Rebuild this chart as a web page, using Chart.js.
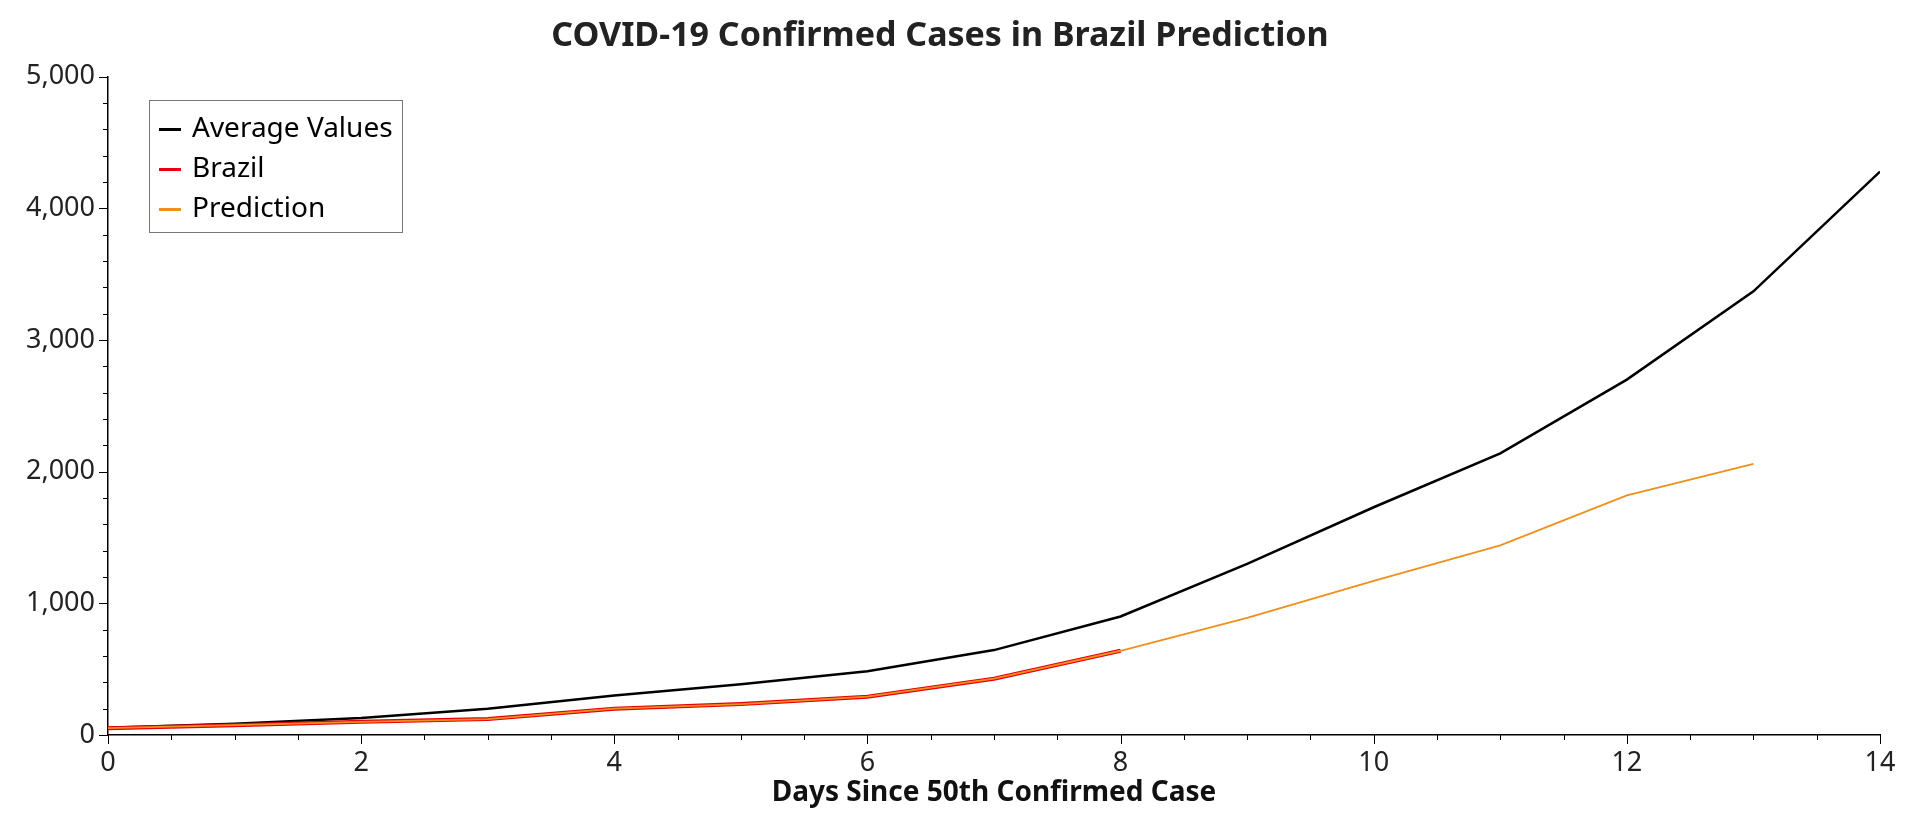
<!DOCTYPE html>
<html>
<head>
<meta charset="utf-8">
<script src="https://cdn.jsdelivr.net/npm/chart.js@4"></script>
<style>
  body { margin: 0; background: #fff; }
  #wrap { position: relative; width: 1920px; height: 828px; }
  #legend { position: absolute; left: 149px; top: 100px; width: 254px; height: 133px;
    border: 1.5px solid #777; font-family: "Noto Sans"; font-size: 28px; box-sizing: border-box;
    padding: 5px 0 0 9px; }
  #legend div { height: 40px; line-height: 40px; }
  #legend span.sw { display: inline-block; width: 22px; height: 3px; vertical-align: middle; margin-right: 11px; }
</style>
</head>
<body>
<div id="wrap">
  <canvas id="chart" width="1920" height="828"></canvas>
  <div id="legend"></div>
</div>
<script>
const days = [0, 1, 2, 3, 4, 5, 6, 7, 8, 9, 10, 11, 12, 13, 14];
const averageValues = [55, 85, 130, 200, 300, 385, 485, 645, 900, 1300, 1730, 2140, 2700, 3370, 4280];
const brazil = [52, 75, 100, 121, 200, 235, 291, 428, 640];
const prediction = [52, 75, 100, 121, 200, 235, 291, 428, 640, 890, 1170, 1440, 1820, 2060];

const avgColor = "#000000";
const brazilColor = "#e8000b";
const predColor = "#f0901c";

function toPoints(arr) {
  return arr.map(function(v, i) { return { x: days[i], y: v }; });
}

// minor tick marks (y every 200, x every 0.5)
const minorTicks = {
  id: "minorTicks",
  afterDraw(chart) {
    const ctx = chart.ctx;
    const xs = chart.scales.x, ys = chart.scales.y;
    ctx.save();
    ctx.strokeStyle = "#000";
    ctx.lineWidth = 1;
    ctx.beginPath();
    for (let v = 0; v <= 5000; v += 200) {
      const y = Math.round(ys.getPixelForValue(v)) + 0.5;
      const len = v % 1000 === 0 ? 9 : 5;
      ctx.moveTo(xs.left - len, y); ctx.lineTo(xs.left, y);
    }
    for (let v = 0; v <= 14; v += 0.5) {
      const x = Math.round(xs.getPixelForValue(v)) + 0.5;
      const len = v % 2 === 0 ? 9 : 5;
      ctx.moveTo(x, ys.bottom); ctx.lineTo(x, ys.bottom + len);
    }
    ctx.stroke();
    ctx.restore();
  }
};

const chart = new Chart(document.getElementById("chart").getContext("2d"), {
  type: "line",
  plugins: [minorTicks],
  data: {
    datasets: [
      { label: "Average Values", data: toPoints(averageValues), borderColor: avgColor, backgroundColor: avgColor, borderWidth: 2.5, pointRadius: 0, order: 3 },
      { label: "Brazil", data: toPoints(brazil), borderColor: brazilColor, backgroundColor: brazilColor, borderWidth: 4, pointRadius: 0, order: 2 },
      { label: "Prediction", data: toPoints(prediction), borderColor: predColor, backgroundColor: predColor, borderWidth: 1.8, pointRadius: 0, order: 1 }
    ]
  },
  options: {
    responsive: false,
    animation: false,
    layout: { padding: { top: 12, right: 40, left: 0, bottom: 14 } },
    plugins: {
      legend: { display: false },
      tooltip: { enabled: false },
      title: {
        display: true,
        text: "COVID-19 Confirmed Cases in Brazil Prediction",
        color: "#222",
        font: { family: "Noto Sans", size: 34, weight: "bold" },
        padding: { top: 4, bottom: 20 }
      }
    },
    scales: {
      x: {
        type: "linear", min: 0, max: 14,
        ticks: { stepSize: 2, color: "#222", padding: 3, font: { family: "Noto Sans", size: 27 } },
        grid: { display: false, drawTicks: true, tickLength: 9 },
        border: { color: "#000", width: 1.5 },
        title: { display: true, text: "Days Since 50th Confirmed Case", color: "#111", padding: { top: 0 },
          font: { family: "Noto Sans", size: 28, weight: "bold" } },
        afterFit: function(s) { s.height = 79; }
      },
      y: {
        min: 0, max: 5000,
        ticks: { stepSize: 1000, color: "#222", padding: 4, font: { family: "Noto Sans", size: 27 },
          callback: function(v) { return v.toLocaleString("en-US"); } },
        grid: { display: false, tickLength: 9 },
        border: { color: "#000", width: 1.5 },
        afterFit: function(s) { s.width = 108; }
      }
    }
  }
});

const legendEl = document.getElementById("legend");
chart.data.datasets.forEach(function(ds) {
  const row = document.createElement("div");
  const sw = document.createElement("span");
  sw.className = "sw";
  sw.style.background = ds.borderColor;
  row.appendChild(sw);
  row.appendChild(document.createTextNode(ds.label));
  legendEl.appendChild(row);
});
</script>
</body>
</html>
